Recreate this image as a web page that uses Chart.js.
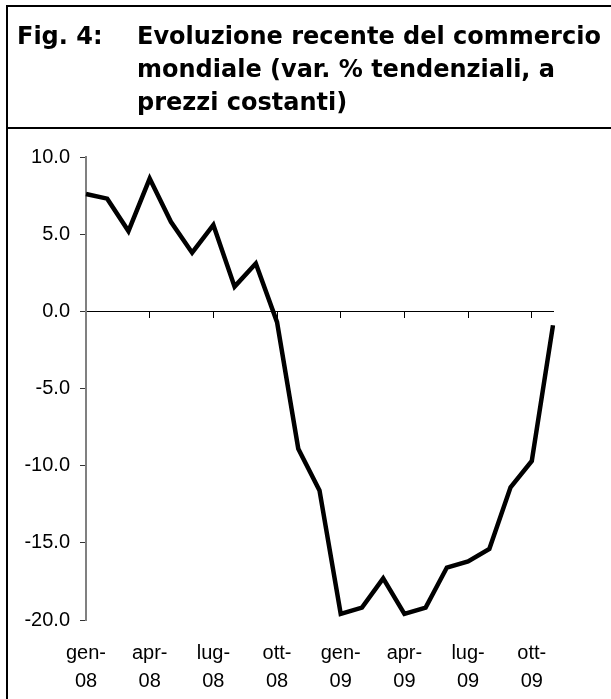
<!DOCTYPE html>
<html>
<head>
<meta charset="utf-8">
<script src="https://cdn.jsdelivr.net/npm/chart.js@4.4.1/dist/chart.umd.min.js"></script>
<style>
html,body{margin:0;padding:0;background:#fff;width:611px;height:699px;overflow:hidden;position:relative}
#wrap{position:absolute;left:0;top:0;width:611px;height:699px}
#frame{position:absolute;left:6px;top:5px;width:720px;height:820px;border-left:2px solid #000;border-top:2px solid #000;box-sizing:border-box;pointer-events:none}
#sep{position:absolute;left:6px;top:127px;width:720px;height:2px;background:#000}
.t{position:absolute;top:20px;font:bold 24px/33px "DejaVu Sans",Verdana,sans-serif;color:#000;white-space:nowrap}
</style>
</head>
<body>
<div id="wrap"><canvas id="c" width="611" height="699"></canvas></div>
<div id="frame"></div>
<div id="sep"></div>
<div class="t" style="left:17px">Fig. 4:</div>
<div class="t" style="left:137px">Evoluzione recente del commercio<br>mondiale (var. % tendenziali, a<br>prezzi costanti)</div>
<script>
// Months (gen-08 .. nov-09)
const months = ['gen-08','feb-08','mar-08','apr-08','mag-08','giu-08','lug-08','ago-08','set-08','ott-08','nov-08','dic-08',
                'gen-09','feb-09','mar-09','apr-09','mag-09','giu-09','lug-09','ago-09','set-09','ott-09','nov-09'];
// World trade, y/y % change at constant prices
const tradeGrowth = [7.6, 7.3, 5.2, 8.6, 5.8, 3.8, 5.6, 1.6, 3.1, -0.7, -8.9, -11.6,
                     -19.6, -19.2, -17.3, -19.6, -19.2, -16.6, -16.2, -15.4, -11.4, -9.7, -0.9];
const yTicks = [-20, -15, -10, -5, 0, 5, 10];

const labelFont = {family:'"Liberation Sans", Arial, sans-serif', size:20, lineHeight:1.4};
const everyThird = s => { s.ticks = s.ticks.filter(t => t.value % 3 === 0); };

new Chart(document.getElementById('c'), {
  type: 'line',
  data: {
    labels: months,
    datasets: [{
      data: tradeGrowth,
      borderColor: '#000',
      borderWidth: 4.5,
      pointRadius: 0,
      tension: 0,
      fill: false,
      borderJoinStyle: 'miter',
      borderCapStyle: 'butt',
      xAxisID: 'x',
      yAxisID: 'y'
    }]
  },
  options: {
    responsive: false,
    animation: false,
    devicePixelRatio: 1,
    layout: {padding: {left: 0, right: 58, top: 157, bottom: 0}},
    plugins: {legend: {display: false}, title: {display: false}, tooltip: {enabled: false}},
    scales: {
      x: {
        type: 'category',
        position: 'bottom',
        offset: false,
        grid: {display: false},
        border: {display: false},
        afterBuildTicks: everyThird,
        afterFit: s => { s.height = 79; },
        ticks: {
          autoSkip: false, maxRotation: 0, minRotation: 0, padding: 11,
          color: '#000', font: labelFont,
          callback: function (v) { const l = this.getLabelForValue(v); return [l.slice(0, 4), l.slice(4)]; }
        }
      },
      x0: {
        type: 'category',
        position: {y: 0},
        offset: false,
        grid: {drawOnChartArea: false, drawTicks: true, tickLength: 6, color: '#000', lineWidth: 1},
        border: {display: true, color: '#000', width: 1},
        afterBuildTicks: everyThird,
        ticks: {display: false, autoSkip: false}
      },
      y: {
        min: -20, max: 10,
        afterBuildTicks: s => { s.ticks = yTicks.map(v => ({value: v})); },
        afterFit: s => { s.width = 86; },
        grid: {drawOnChartArea: false, drawTicks: true, tickLength: 6, tickColor: '#333'},
        border: {display: true, color: '#808080', width: 2},
        ticks: {padding: 10, color: '#000', font: labelFont, callback: v => v.toFixed(1)}
      }
    }
  }
});
</script>
</body>
</html>
